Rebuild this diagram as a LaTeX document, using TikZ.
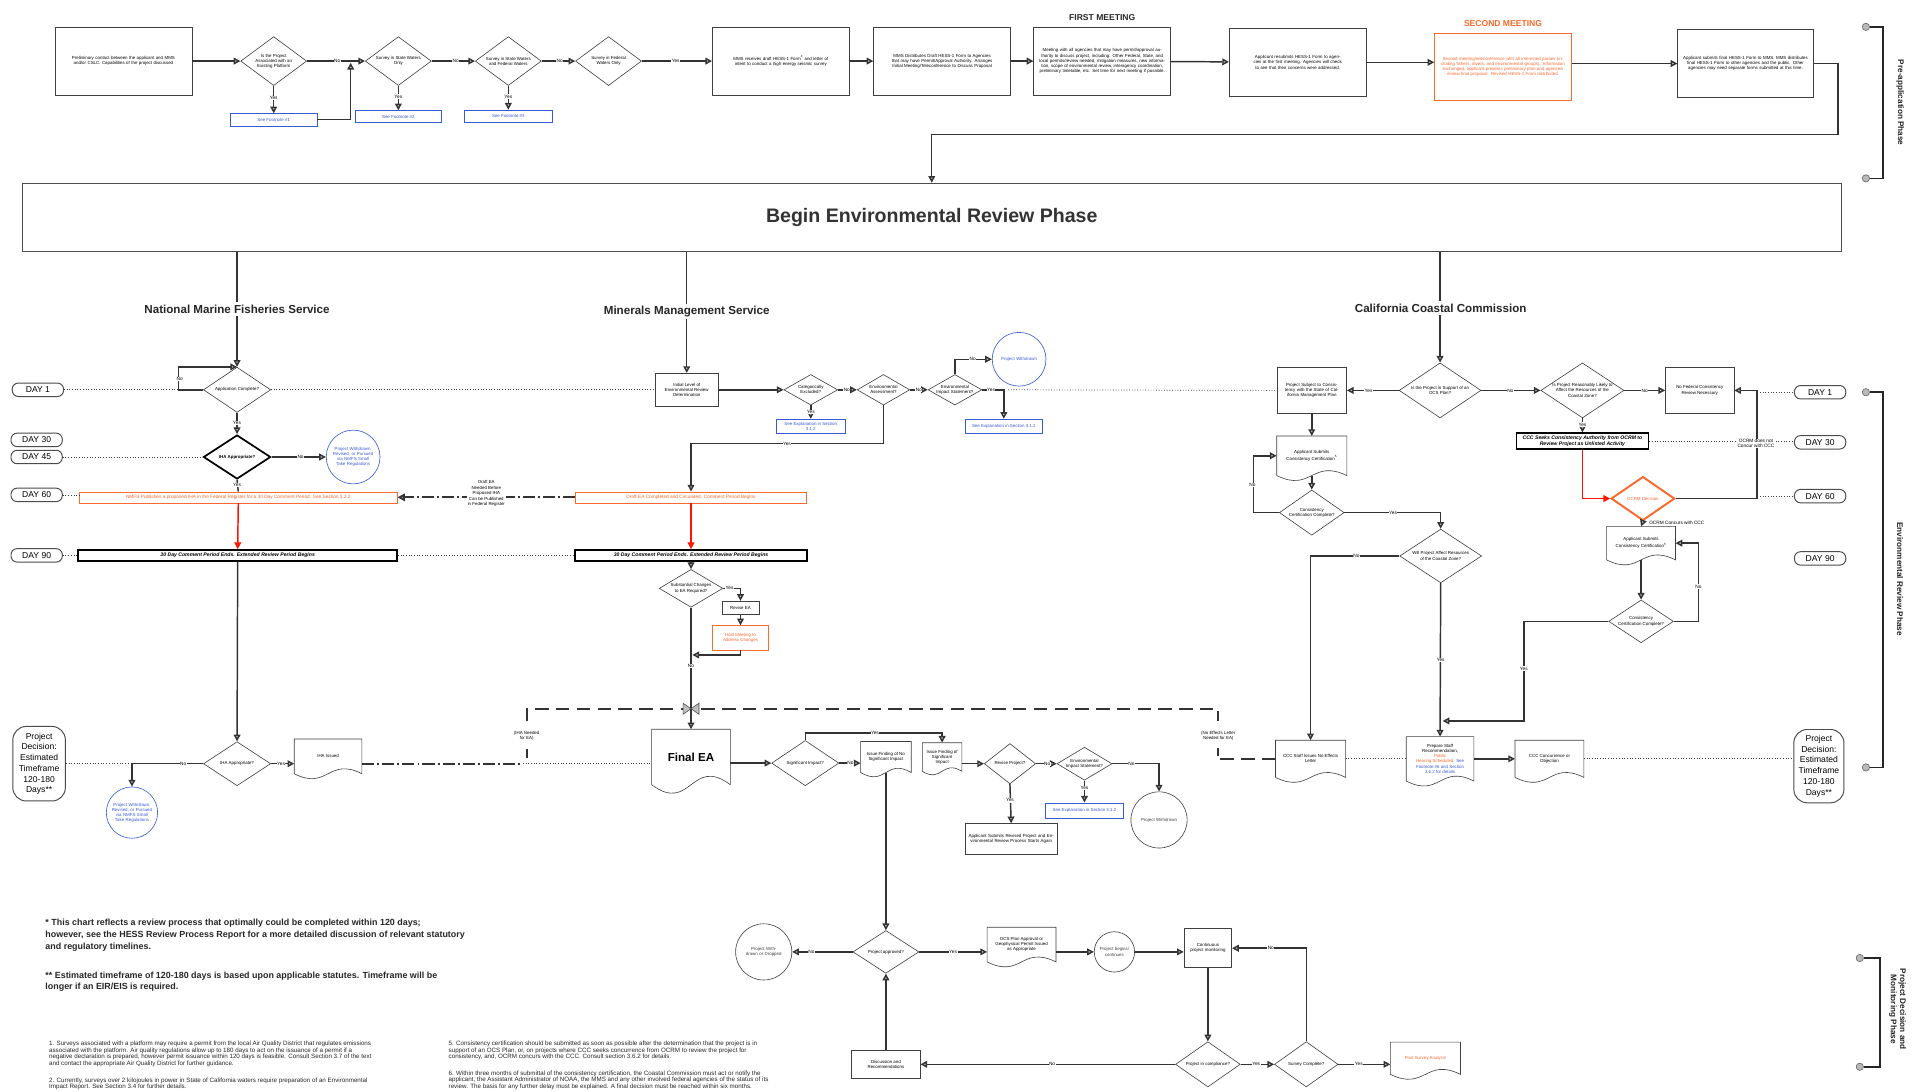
\documentclass[tikz,border=0pt]{standalone}
\usepackage{fontspec}
\setmainfont{Liberation Sans}
\usetikzlibrary{shapes.geometric,arrows.meta,calc}
\definecolor{myorange}{RGB}{250,105,45}
\definecolor{myblue}{RGB}{55,90,215}
\newcommand\tf{\fontsize{3.6}{4.2}\selectfont}
\newcommand\lf{\fontsize{3.9}{4.4}\selectfont}
\newcommand\docout[2]{\draw[docl] (#1.south west) -- (#1.north west) -- (#1.north east) -- (#1.south east) .. controls ($(#1.south west)!0.5!(#1.south east)+(0,-#2)$) and ($(#1.south west)!0.5!(#1.south east)+(0,#2)$) .. (#1.south west);}
\newcommand\dianode[6][]{\node[dia,#1,minimum width=#4,minimum height=#5] (#2) at (#3) {}; \node[dtext] at (#2) {#6};}
\newcommand\circnode[6][black!75]{\node[circ,draw=#1,minimum size=#4] (#2) at (#3) {}; \node[dtext,text width=#5,text=#1] at (#2) {#6};}
\newcommand\docnode[7][]{\node[docn,minimum width=#4,minimum height=#5,#1] (#2) at (#3) {#6}; \docout{#2}{#7}}
\tikzset{
 ln/.style={draw=black!80, line width=1.2pt},
 arr/.style={ln, -{Triangle[length=5.5pt,width=5.5pt,fill=gray!45]}},
 redarr/.style={draw=red!85!orange, line width=1.2pt, -{Triangle[length=5.5pt,width=5.5pt,fill=red!70!orange]}},
 dots/.style={draw=black!75, line width=0.6pt, dash pattern=on 0.7pt off 1.5pt},
 bx/.style={rectangle, draw=black!75, line width=0.5pt, fill=white, align=center, font=\tf, inner sep=1pt},
 dia/.style={diamond, aspect=1.6, draw=black!75, line width=0.5pt, fill=white, inner sep=0pt},
 dtext/.style={align=center, font=\tf, inner sep=0pt},
 bbox/.style={bx, draw=myblue, text=myblue},
 obox/.style={bx, draw=myorange, text=myorange, font=\fontsize{3.9}{4.4}\selectfont},
 kbox/.style={bx, draw=black, line width=1.2pt, font=\fontsize{4.2}{4.8}\selectfont\bfseries\itshape},
 circ/.style={circle, line width=0.5pt, fill=white, inner sep=0pt},
 docn/.style={rectangle, align=center, font=\tf, inner sep=1pt},
 docl/.style={draw=black!75, line width=0.5pt},
 lbl/.style={fill=white, inner sep=0.4pt, font=\lf},
 day/.style={rectangle, rounded corners=5pt, draw=black!70, line width=0.8pt, fill=white, minimum width=42pt, minimum height=11pt, inner sep=0pt, font=\fontsize{7}{8}\selectfont},
 lane/.style={fill=white, inner sep=2pt, font=\fontsize{9.5}{11}\selectfont\bfseries, text=black!85},
 pdbox/.style={rectangle, rounded corners=11pt, draw=black!70, line width=0.8pt, fill=white, align=center, font=\fontsize{7}{8.8}\selectfont, inner sep=0pt},
 dashthick/.style={draw=black!80, line width=1.8pt, dash pattern=on 11pt off 6pt},
 dshdt/.style={draw=black!80, line width=1.6pt, dash pattern=on 10pt off 2.5pt on 1.5pt off 2.5pt},
 phase/.style={font=\fontsize{6.7}{7.6}\selectfont\bfseries, align=center, rotate=-90, text=black!85},
 pdot/.style={circle, fill=gray!55, draw=black!60, line width=0.5pt, minimum size=6pt, inner sep=0pt},
 brk/.style={draw=black!85, line width=1.3pt},
 boldnote/.style={anchor=north west, inner sep=0pt, align=left, font=\fontsize{7.3}{9.6}\selectfont\bfseries, text=black!85},
 smallnote/.style={anchor=north west, inner sep=0pt, align=left, font=\fontsize{5.1}{5.3}\selectfont, text=black!85},
}
\begin{document}
\begin{tikzpicture}[x=1pt,y=-1pt]
\useasboundingbox (0,0) rectangle (1568,893);
\fill[white] (0,0) rectangle (1568,893);

% ---------------- Pre-application row ----------------
\node[bx, minimum width=112, minimum height=56, text width=104] (b1) at (101,50) {Preliminary contact between the applicant and MMS and/or CSLC. Capabilities of the project discussed};
\dianode{d1}{224,50}{54}{40}{Is the Project\\Associated with an\\Existing Platform}
\node[bbox, minimum width=71, minimum height=10] (f1) at (224,98) {See Footnote \#1};
\dianode{d2}{326,50}{54}{40}{Survey in State Waters\\Only}
\node[bbox, minimum width=71, minimum height=10] (f2) at (326,95.5) {See Footnote \#2};
\dianode{d3}{416,50}{54}{40}{Survey in State Waters\\and Federal Waters}
\node[bbox, minimum width=72, minimum height=10] (f3) at (416,95) {See Footnote \#3};
\dianode{d4}{498,50}{54}{40}{Survey in Federal\\Waters Only}
\node[bx, minimum width=112, minimum height=56, text width=104] (b5) at (639,50) {MMS receives draft HESS-1 Form\textsuperscript{4} and letter of intent to conduct a high energy seismic survey};
\node[bx, minimum width=112, minimum height=56, text width=104] (b6) at (771,50) {MMS Distributes Draft HESS-1 Form to Agencies that may have Permit/Approval Authority. Arranges Initial Meeting/Teleconference to Discuss Proposal};
\node[bx, minimum width=112, minimum height=56, text width=104] (b7) at (902,50) {Meeting with all agencies that may have permit/approval authority to discuss project, including: Other Federal, State, and local permits/review needed, mitigation measures, new information, scope of environmental review, interagency coordination, preliminary timetable, etc. Set time for next meeting if possible.};
\node[bx, minimum width=112, minimum height=56, text width=104] (b8) at (1062,51) {Applicant resubmits HESS-1 Form to agencies at the first meeting. Agencies will check to see that their concerns were addressed.};
\node[obox, font=\tf, minimum width=112, minimum height=55, text width=104] (b9) at (1230,54.5) {Second meeting/teleconference with all interested parties (including fishers, divers, and environmental groups). Information exchanged, applicant presents preliminary plan and agencies review final proposal. Revised HESS-1 Form distributed.};
\node[bx, minimum width=111, minimum height=56, text width=103] (b10) at (1428.5,52) {Applicant submits final HESS-1 Form to MMS. MMS distributes final HESS-1 Form to other agencies and the public. Other agencies may need separate forms submitted at this time.};
\node[font=\fontsize{7}{8}\selectfont\bfseries, text=black!85] (fm) at (902,14) {FIRST MEETING};
\node[font=\fontsize{7}{8}\selectfont\bfseries, text=myorange] (sm) at (1230,19) {SECOND MEETING};

\draw[arr] (b1) -- (d1);
\draw[arr] (d1) -- (f1);
\draw[arr] (d1) -- (d2);
\draw[arr] (f1.east) -| (287,51.4);
\draw[arr] (d2) -- (f2);
\draw[arr] (d2) -- (d3);
\draw[arr] (d3) -- (f3);
\draw[arr] (d3) -- (d4);
\draw[arr] (d4) -- (b5);
\draw[arr] (b5) -- (b6);
\draw[arr] (b6) -- (b7);
\draw[arr] (b7) -- (b8);
\draw[arr] (b8.east) -- (b8.east -| b9.west);
\draw[arr] (b9.east |- b10.west) -- (b10.west);
\node[lbl] at (224,80) {Yes};
\node[lbl] at (326,79) {Yes};
\node[lbl] at (416,79) {Yes};
\node[lbl] at (276,50) {No};
\node[lbl] at (373,50) {No};
\node[lbl] at (458,50) {No};
\node[lbl] at (553,50) {Yes};

% Begin box
\node[draw=black!70, line width=0.8pt, minimum width=1489, minimum height=56, font=\fontsize{16}{18}\selectfont\bfseries, text=black!80] (begin) at (762.5,178) {Begin Environmental Review Phase};
\draw[arr] (b10.east) -| (1504,110) -| (begin.north);

% Pre-application bracket
\node[pdot] (pp1) at (1527,22) {};
\node[pdot] (pp2) at (1527,146) {};
\draw[brk] (pp1.east) -| (1541,84) |- (pp2.east);
\node[phase] at (1555,84) {Pre-application Phase};

% ---------------- Day labels ----------------
\node[day] (dl1) at (31,319) {DAY 1};
\node[day] (dl30) at (30,360) {DAY 30};
\node[day] (dl45) at (30,374) {DAY 45};
\node[day] (dl60) at (30,405) {DAY 60};
\node[day] (dl90) at (30,454.5) {DAY 90};
\node[day] (dr1) at (1489.5,321) {DAY 1};
\node[day] (dr30) at (1489.5,362) {DAY 30};
\node[day] (dr60) at (1489.5,406) {DAY 60};
\node[day] (dr90) at (1489.5,457) {DAY 90};

% ---------------- NMFS ----------------
\dianode{a1}{194,319}{55}{37}{Application Complete?}
\dianode[draw=black, line width=1.4pt]{i1}{194,374}{55}{36}{\bfseries IHA Appropriate?}
\circnode[myblue]{c1}{289,374}{44}{37}{Project Withdrawn, Revised, or Pursued via NMFS Small Take Regulations}
\node[obox, minimum width=260, minimum height=9] (o1) at (195,407) {NMFS Publishes a proposed IHA in the Federal Register for a 30 Day Comment Period. See Section 3.2.2};
\node[kbox, minimum width=261, minimum height=9] (k1) at (194.5,454.5) {30 Day Comment Period Ends. Extended Review Period Begins};
\dianode{i2}{194,625}{55}{36}{IHA Appropriate?}
\docnode{iss}{268.5,619}{55}{28}{IHA Issued}{14}
\circnode[myblue]{c2}{108,665}{42}{35}{Project Withdrawn, Revised, or Pursued via NMFS Small Take Regulations}
\node[pdbox, minimum width=43, minimum height=61] (pd1) at (32,625) {Project\\Decision:\\Estimated\\Timeframe\\120-180\\Days**};

\draw[arr] (begin.south -| a1.north) -- (a1.north);
\draw[arr] (a1.west) -- ++(-20,0) |- (a1.north);
\draw[arr] (a1.south) -- (i1.north);
\draw[arr] (i1.east) -- (c1.west);
\draw[ln] (i1.south) -- (o1.north);
\draw[redarr] (o1.south) -- (k1.north);
\draw[arr] (k1.south) -- (i2.north);
\draw[arr] (i2.east) -- (i2.east -| iss.west);
\draw[arr] (i2.west) -| (c2.north);
\draw[dots] (pd1.east) -- (106,625);
\draw[dots] (dl1.east) -- (a1.west);
\draw[dots] (dl45.east) -- (i1.west);
\draw[dots] (dl60.east) -- (dl60.east -| o1.west);
\draw[dots] (dl90.east) -- (k1.west);
\node[lbl] at (147,310) {No};
\node[lbl] at (194,346) {Yes};
\node[lbl] at (246,374) {No};
\node[lbl] at (194,397) {Yes};
\node[lbl] at (230,625) {Yes};
\node[lbl] at (150,625) {No};

% ---------------- MMS ----------------
\node[bx, minimum width=51, minimum height=27] (m1) at (562,319) {Initial Level of\\Environmental Review\\Determination};
\dianode{ce}{663.5,319}{44}{25}{Categorically\\Excluded?}
\node[bbox, minimum width=56, minimum height=12] (bb1) at (663.5,349) {See Explanation in Section\\3.1.2};
\dianode{ea}{723,319}{43}{25}{Environmental\\Assessment?}
\dianode{eis}{781.5,319}{44}{25}{Environmental\\Impact Statement?}
\circnode[myblue]{pw1}{834,294}{44}{36}{Project Withdrawn}
\node[bbox, minimum width=63, minimum height=12] (bb2) at (821.5,349) {See Explanation in Section 3.1.2};
\node[obox, minimum width=189, minimum height=9] (o2) at (565.5,407) {Draft EA Completed and Circulated. Comment Period Begins};
\node[kbox, minimum width=190, minimum height=9] (k2) at (565.5,454.5) {30 Day Comment Period Ends. Extended Review Period Begins};
\dianode{sc}{565.5,481.5}{52}{31}{Substantial Changes\\to EA Required?}
\node[bx, minimum width=30, minimum height=11] (rev) at (606,497.5) {Revise EA};
\node[obox, font=\tf, minimum width=46, minimum height=20] (hm) at (606,522) {Hold Meeting to\\Address Changes};
\docnode[font=\fontsize{9.5}{11}\selectfont\bfseries]{fea}{565.5,619.5}{64}{45}{Final EA}{24}

\draw[arr] (begin.south -| m1.north) -- (m1.north);
\draw[dots] (a1.east) -- (m1.west);
\draw[arr] (m1.east) -- (ce.west);
\draw[arr] (ce.south) -- (bb1.north);
\draw[arr] (ce.east) -- (ea.west);
\draw[arr] (ea.east) -- (eis.west);
\draw[arr] (eis.north) |- (pw1.west);
\draw[arr] (eis.east) -| (bb2.north);
\draw[arr] (ea.south) -- (723,363) -| (o2.north);
\draw[redarr] (o2.south) -- (k2.north);
\draw[arr] (k2.south) -- (sc.north);
\draw[arr] (sc.east) -| (rev.north);
\draw[arr] (rev.south) -- (hm.north);
\draw[arr] (hm.south) |- (566.6,536);
\draw[arr] (sc.south) -- (fea.north);
\draw[dots] (k1.east) -- (k2.west);
\draw[dshdt, -{Triangle[length=6pt,width=6pt,fill=gray!45]}] (o2.west) -- (o1.east);
\node[fill=white, inner sep=1pt, align=center, font=\fontsize{3.6}{4.5}\selectfont] at (398,404) {Draft EA\\Needed Before\\Proposed IHA\\Can be Published\\in Federal Register};
\node[lbl] at (663.5,337) {Yes};
\node[lbl] at (693,319) {No};
\node[lbl] at (752,319) {No};
\node[lbl] at (796,294) {No};
\node[lbl] at (811,319) {Yes};
\node[lbl] at (644,363) {Yes};
\node[lbl] at (597,481.5) {Yes};
\node[lbl] at (565.5,545) {No};

% dashed EA links
\draw[dashthick] (431,590) -- (431,580) -- (997,580) -- (997,590);
\draw[dashthick] (431,613) -- (431,620);
\draw[dashthick] (997,612) -- (997,619);
\node[align=center, font=\fontsize{3.6}{4.4}\selectfont] at (431,602) {(IHA Needed\\for EA)};
\node[align=center, font=\fontsize{3.6}{4.4}\selectfont] at (997,602) {(No Effects Letter\\Needed for EA)};
\filldraw[fill=gray!50, draw=black!70, line width=0.5pt] (559,575.5) -- (565.5,580) -- (559,584.5) -- cycle (572,575.5) -- (565.5,580) -- (572,584.5) -- cycle;
\draw[dshdt] (iss.east |- 0,625) -- (428,625);
\draw[dots] (428,625) -- (fea.west |- 0,625);

% ---------------- EA outcomes ----------------
\dianode{si}{659,624.5}{55}{37}{Significant Impact?}
\docnode{fn}{725,619.5}{41}{25}{Issue Finding of No\\Significant Impact}{12}
\docnode{fs}{771,619.5}{32}{23}{Issue Finding of\\Significant\\Impact}{10}
\dianode{rp}{826.5,625}{42}{33}{Revise Project?}
\node[bx, minimum width=75, minimum height=25, text width=70] (ar) at (827.5,686.5) {Applicant Submits Revised Project and Environmental Review Process Starts Again};
\dianode{eis2}{887.5,625}{45}{27}{Environmental\\Impact Statement?}
\node[bbox, minimum width=64, minimum height=13] (bb3) at (887.5,663.5) {See Explanation in Section 3.1.2};
\circnode{pw2}{948.5,671}{46}{36}{Project Withdrawn}

\draw[arr] (fea.east |- 0,624.5) -- (si.west);
\draw[arr] (si.east) -- (si.east -| fn.west);
\draw[arr] (si.north) -- (659,600) -| (fs.north);
\draw[arr] (fs.east |- 0,625) -- (rp.west);
\draw[arr] (rp.south) -- (ar.north);
\draw[arr] (rp.east) -- (eis2.west);
\draw[arr] (eis2.south) -- (bb3.north);
\draw[arr] (eis2.east) -| (pw2.north);
\node[lbl] at (696,624.5) {No};
\node[lbl] at (716,600) {Yes};
\node[lbl] at (826.5,655) {Yes};
\node[lbl] at (857,625) {No};
\node[lbl] at (887.5,645) {Yes};
\node[lbl] at (926,625) {No};

% ---------------- Decision & monitoring ----------------
\dianode{pa}{725,779}{54}{35}{Project approved?}
\circnode{pwd}{625,779}{46}{36}{Project Withdrawn or Dropped}
\docnode{ocs}{836,773}{56}{28}{OCS Plan Approval or\\Geophysical Permit Issued\\as Appropriate}{14}
\circnode{pb}{912,779}{33}{28}{Project begins/\\continues}
\node[bx, minimum width=39, minimum height=32, text width=36] (cm) at (988.5,776) {Continuous project monitoring};
\dianode{pc}{988.5,871}{53}{37}{Project in compliance?}
\node[bx, minimum width=56, minimum height=23] (dr) at (725,871) {Discussion and\\Recommendations};
\dianode{scp}{1069,871}{52}{37}{Survey Complete?}
\docnode[text=myorange]{psa}{1166.5,866}{57}{26}{Post Survey Analysis}{14}

\draw[arr] (fn.south) -- (pa.north);
\draw[arr] (pa.west) -- (pwd.east);
\draw[arr] (pa.east) -- (pa.east -| ocs.west);
\draw[arr] (ocs.east |- 0,779) -- (pb.west);
\draw[arr] (pb.east) -- (pb.east -| cm.west);
\draw[arr] (cm.south) -- (pc.north);
\draw[arr] (pc.west) -- (dr.east);
\draw[arr] (dr.north) -- (pa.south);
\draw[arr] (pc.east) -- (scp.west);
\draw[arr] (scp.north) |- (cm.east);
\draw[arr] (scp.east) -- (scp.east -| psa.west);
\node[lbl] at (664,779) {No};
\node[lbl] at (780,779) {Yes};
\node[lbl] at (861,871) {No};
\node[lbl] at (1028,871) {Yes};
\node[lbl] at (1040,776) {No};
\node[lbl] at (1112,871) {Yes};

% ---------------- CCC ----------------
\dianode{ops}{1178.5,319.5}{67}{45}{Is the Project in Support of an\\OCS Plan?}
\node[bx, minimum width=57, minimum height=37, text width=54] (pss) at (1073.5,319.5) {Project Subject to Consistency with the State of California Management Plan};
\docnode{asc1}{1073.5,373}{57}{32}{Applicant Submits\\Consistency Certification\textsuperscript{5}}{14}
\dianode{ccc1}{1073.5,419.5}{53}{37}{Consistency\\Certification Complete?}
\dianode{wpa}{1179,455}{67}{44}{Will Project Affect Resources\\of the Coastal Zone?}
\docnode{nel}{1072.5,621}{57}{30}{CCC Staff Issues No Effects\\Letter}{14}
\docnode{psr}{1178.5,621}{55}{36}{Prepare Staff\\Recommendation,\\{\color{myorange}Public}\\{\color{myorange}Hearing Scheduled.} {\color{myblue}See}\\{\color{myblue}Footnote \#6 and Section}\\{\color{myblue}3.6.2 for details}}{14}
\docnode{cco}{1268,621}{56}{30}{CCC Concurrence or\\Objection}{14}
\node[pdbox, minimum width=41, minimum height=60] (pd2) at (1488.5,627) {Project\\Decision:\\Estimated\\Timeframe\\120-180\\Days**};
\dianode{lr}{1295,319.5}{68}{45}{Is Project Reasonably Likely to\\Affect the Resources of the\\Coastal Zone?}
\node[bx, minimum width=56, minimum height=37] (nf) at (1391,319.5) {No Federal Consistency\\Review Necessary};
\node[kbox, minimum width=108, minimum height=13] (cs) at (1295,361) {CCC Seeks Consistency Authority from OCRM to\\Review Project as Unlisted Activity};
\dianode[draw=myorange, line width=1.6pt]{od}{1344.5,408}{52}{36}{\color{myorange}OCRM Decision}
\docnode{asc2}{1343,444.5}{56}{27}{Applicant Submits\\Consistency Certification\textsuperscript{5}}{14}
\dianode{ccc2}{1343,508.5}{53}{35}{Consistency\\Certification Complete?}

\draw[arr] (begin.south -| ops.north) -- (ops.north);
\draw[arr] (ops.west) -- (pss.east);
\draw[arr] (pss.south) -- (asc1.north);
\draw[arr] (asc1.south) -- (ccc1.north);
\draw[arr] (ccc1.west) -- ++(-21,0) |- (asc1.west);
\draw[arr] (ccc1.east) -| (wpa.north);
\draw[arr] (wpa.west) -| (nel.north);
\draw[arr] (wpa.south) -- (psr.north);
\draw[arr] (psr.east) -- (cco.west);
\draw[dots] (nel.east) -- (psr.west);
\draw[dots] (cco.east) -- (cco.east -| pd2.west);
\draw[dashthick] (nel.west) -- ++(-48,0);
\draw[dots] (825,319) -- (pss.west);
\draw[arr] (ops.east) -- (lr.west);
\draw[arr] (lr.east) -- (nf.west);
\draw[arr] (lr.south) -- (cs.north);
\draw[redarr] (cs.south) |- (od.west);
\draw[arr] (od.east) -| (1438,360) |- (nf.east);
\draw[arr] (od.south) -- (asc2.north);
\draw[arr] (asc2.south) -- (ccc2.north);
\draw[arr] (ccc2.east) -| (1390,480) |- (asc2.east);
\draw[arr] (ccc2.west) -| (1247,560) |- (1180.6,590);
\draw[dots] (1438,321) -- (dr1.west);
\draw[dots] (cs.east) -- (cs.east -| dr30.west);
\draw[dots] (1438,406) -- (dr60.west);
\node[lbl, align=center] at (1437,363) {OCRM does not\\Concur with CCC};
\node[anchor=west, font=\lf, inner sep=0.5pt] at (1349,428) {OCRM Concurs with CCC};
\node[lbl] at (1120,319.5) {Yes};
\node[lbl] at (1236,319.5) {No};
\node[lbl] at (1346,319.5) {No};
\node[lbl] at (1295,347.5) {Yes};
\node[lbl] at (1025,397) {No};
\node[lbl] at (1140,419.5) {Yes};
\node[lbl] at (1110,455) {No};
\node[lbl] at (1179,540) {Yes};
\node[lbl] at (1390,480) {No};
\node[lbl] at (1247,547) {Yes};

% Lane titles
\node[lane] at (194,253) {National Marine Fisheries Service};
\node[lane] at (562,255) {Minerals Management Service};
\node[lane] at (1179,252) {California Coastal Commission};

% Environmental review bracket
\node[pdot] (pe1) at (1527,321) {};
\node[pdot] (pe2) at (1527,628) {};
\draw[brk] (pe1.east) -| (1541,474) |- (pe2.east);
\node[phase] at (1555,474) {Environmental Review Phase};

% Project decision bracket
\node[pdot] (pm1) at (1522,784) {};
\node[pdot] (pm2) at (1522,873) {};
\draw[brk] (pm1.east) -| (1538.6,828) |- (pm2.east);
\node[phase] at (1553,826) {Project Decision and\\Monitoring Phase};

% ---------------- Notes ----------------
\node[boldnote] (nt1) at (37,752) {* This chart reflects a review process that optimally could be completed within 120 days;\\however, see the HESS Review Process Report for a more detailed discussion of relevant statutory\\and regulatory timelines.};
\node[boldnote] (nt2) at (37,795) {** Estimated timeframe of 120-180 days is based upon applicable statutes. Timeframe will be\\longer if an EIR/EIS is required.};
\node[smallnote] (nt3) at (40,852) {1. Surveys associated with a platform may require a permit from the local Air Quality District that regulates emissions\\associated with the platform. Air quality regulations allow up to 180 days to act on the issuance of a permit if a\\negative declaration is prepared, however permit issuance within 120 days is feasible. Consult Section 3.7 of the text\\and contact the appropriate Air Quality District for further guidance.};
\node[smallnote] (nt4) at (40,882) {2. Currently, surveys over 2 kilojoules in power in State of California waters require preparation of an Environmental\\Impact Report. See Section 3.4 for further details.};
\node[smallnote] (nt5) at (367,852) {5. Consistency certification should be submitted as soon as possible after the determination that the project is in\\support of an OCS Plan, or, on projects where CCC seeks concurrence from OCRM to review the project for\\consistency, and, OCRM concurs with the CCC. Consult section 3.6.2 for details.};
\node[smallnote] (nt6) at (367,876) {6. Within three months of submittal of the consistency certification, the Coastal Commission must act or notify the\\applicant, the Assistant Administrator of NOAA, the MMS and any other involved federal agencies of the status of its\\review. The basis for any further delay must be explained. A final decision must be reached within six months.};
\end{tikzpicture}
\end{document}
